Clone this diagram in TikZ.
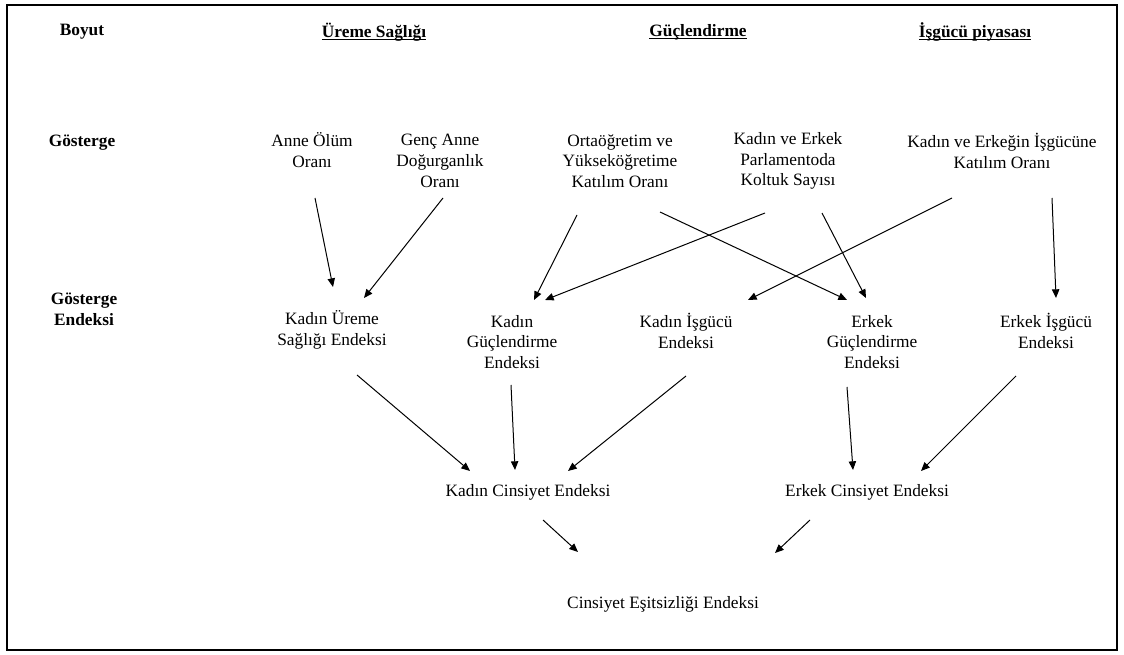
\documentclass[tikz,border=0pt]{standalone}
\usepackage{fontspec}
\setmainfont{Liberation Serif}
\usetikzlibrary{arrows.meta}
\newcommand\myul[1]{\setbox0\hbox{#1}\rlap{\rule[-2pt]{\wd0}{0.9pt}}\box0}
\begin{document}
\begin{tikzpicture}[x=0.75pt,y=-0.75pt,
  txt/.style={inner sep=0pt,align=center,font=\fontsize{13}{15.5}\selectfont},
  hdr/.style={txt,font=\fontsize{13}{15.5}\selectfont\bfseries},
  arr/.style={line width=0.75pt,-{Triangle[length=6.5pt,width=5.5pt]}}]
\useasboundingbox (0,0) rectangle (1124,655);
\draw[line width=1.1pt] (7,5) rectangle (1117,650);
% headers
\node[hdr] (boyut) at (82,32) {Boyut};
\node[hdr] (ureme) at (374,32) {\myul{Üreme Sağlığı}};
\node[hdr] (guc) at (698,32) {\myul{Güçlendirme}};
\node[hdr] (isg) at (975,32) {\myul{İşgücü piyasası}};
\node[hdr] (gost) at (82,143) {Gösterge};
\node[hdr] (gosten) at (84,309) {Gösterge\\Endeksi};
% indicators
\node[txt] (anne) at (312,150) {Anne Ölüm\\Oranı};
\node[txt] (genc) at (440,161) {Genç Anne\\Doğurganlık\\Oranı};
\node[txt] (orta) at (620,161) {Ortaöğretim ve\\Yükseköğretime\\Katılım Oranı};
\node[txt] (parl) at (788,161) {Kadın ve Erkek\\Parlamentoda\\Koltuk Sayısı};
\node[txt] (katil) at (1002,151) {Kadın ve Erkeğin İşgücüne\\Katılım Oranı};
% indices
\node[txt] (kuse) at (332,330) {Kadın Üreme\\Sağlığı Endeksi};
\node[txt] (kge) at (512,342) {Kadın\\Güçlendirme\\Endeksi};
\node[txt] (kie) at (686,331) {Kadın İşgücü\\Endeksi};
\node[txt] (ege) at (872,342) {Erkek\\Güçlendirme\\Endeksi};
\node[txt] (eie) at (1046,331) {Erkek İşgücü\\Endeksi};
\node[txt] (kce) at (528,492) {Kadın Cinsiyet Endeksi};
\node[txt] (ece) at (867,492) {Erkek Cinsiyet Endeksi};
\node[txt] (cee) at (663,604) {Cinsiyet Eşitsizliği Endeksi};
% arrows
\draw[arr] ([shift={(3,48)}]anne.center) -- ([shift={(1,-43)}]kuse.center);
\draw[arr] ([shift={(3,37)}]genc.center) -- ([shift={(32,-32)}]kuse.center);
\draw[arr] ([shift={(-43,54)}]orta.center) -- ([shift={(22,-42)}]kge.center);
\draw[arr] ([shift={(-23,52)}]parl.center) -- ([shift={(33,-42)}]kge.center);
\draw[arr] ([shift={(40,51)}]orta.center) -- ([shift={(-25,-42)}]ege.center);
\draw[arr] ([shift={(34,52)}]parl.center) -- ([shift={(-6,-44)}]ege.center);
\draw[arr] ([shift={(-50,47)}]katil.center) -- ([shift={(62,-31)}]kie.center);
\draw[arr] ([shift={(50,47)}]katil.center) -- ([shift={(10,-33)}]eie.center);
\draw[arr] ([shift={(25,45)}]kuse.center) -- ([shift={(-58,-21)}]kce.center);
\draw[arr] ([shift={(-1,43)}]kge.center) -- ([shift={(-13,-22)}]kce.center);
\draw[arr] ([shift={(0,45)}]kie.center) -- ([shift={(40,-21)}]kce.center);
\draw[arr] ([shift={(-25,45)}]ege.center) -- ([shift={(-14,-22)}]ece.center);
\draw[arr] ([shift={(-30,45)}]eie.center) -- ([shift={(54,-21)}]ece.center);
\draw[arr] ([shift={(15,28)}]kce.center) -- ([shift={(-85,-52)}]cee.center);
\draw[arr] ([shift={(-57,28)}]ece.center) -- ([shift={(112,-51)}]cee.center);
\end{tikzpicture}
\end{document}
